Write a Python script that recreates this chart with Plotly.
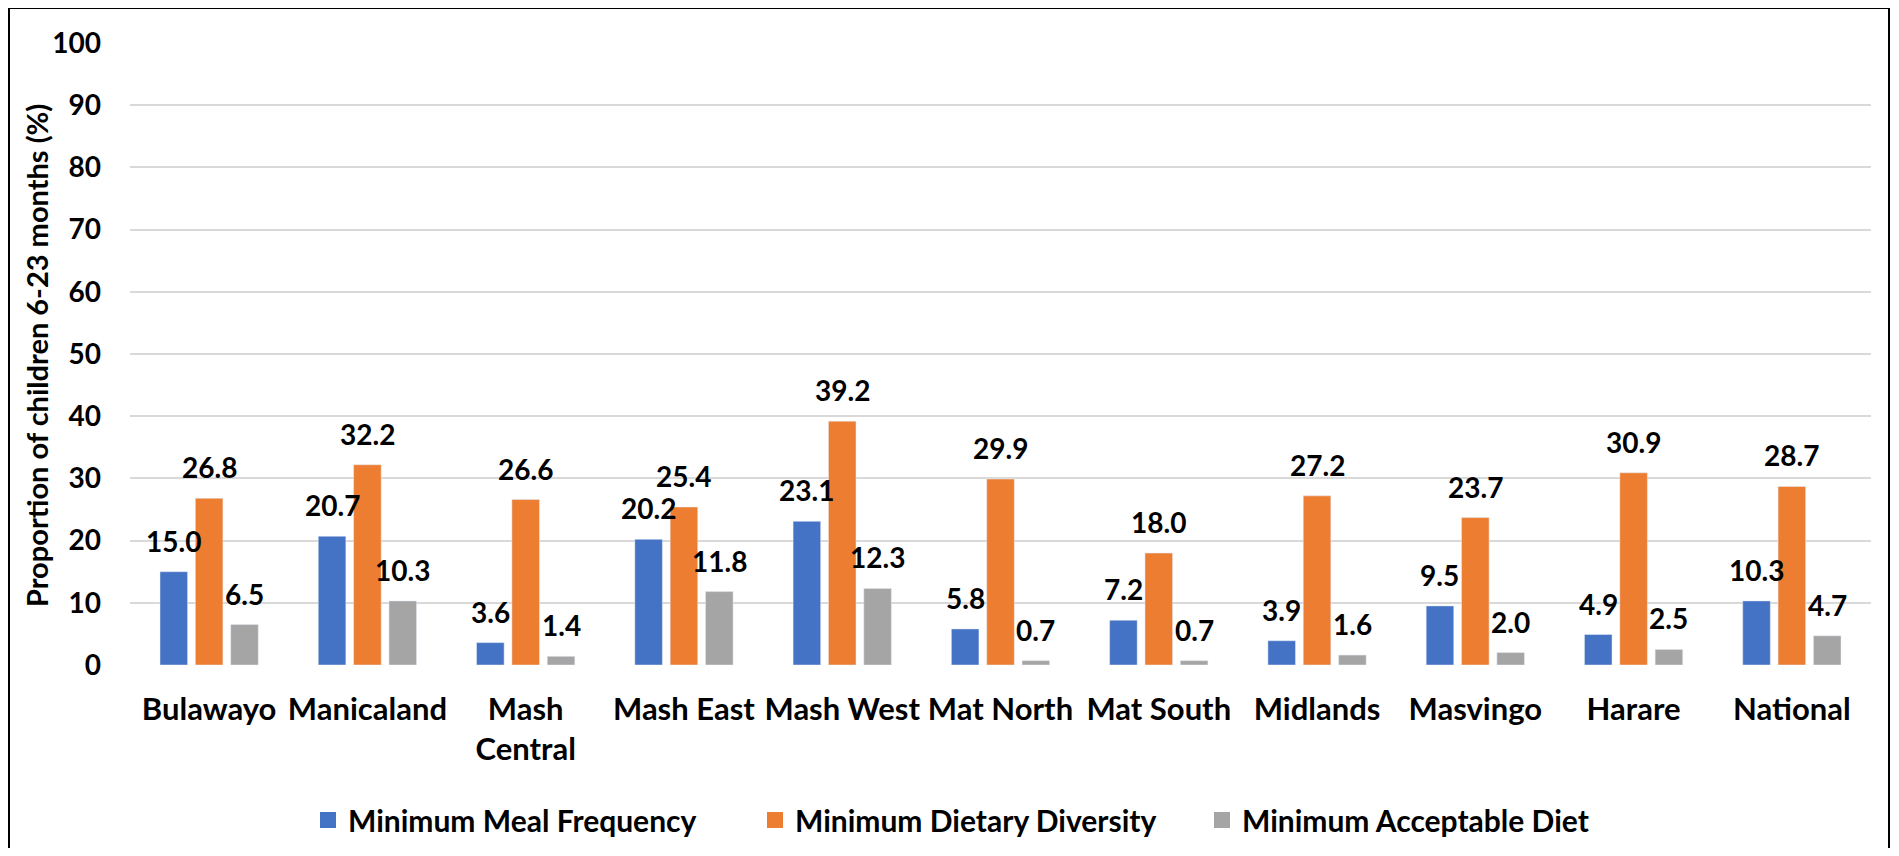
import plotly.graph_objects as go

categories = ["Bulawayo", "Manicaland", "Mash<br>Central", "Mash East", "Mash West",
              "Mat North", "Mat South", "Midlands", "Masvingo", "Harare", "National"]
mmf = [15.0, 20.7, 3.6, 20.2, 23.1, 5.8, 7.2, 3.9, 9.5, 4.9, 10.3]
mdd = [26.8, 32.2, 26.6, 25.4, 39.2, 29.9, 18.0, 27.2, 23.7, 30.9, 28.7]
mad = [6.5, 10.3, 1.4, 11.8, 12.3, 0.7, 0.7, 1.6, 2.0, 2.5, 4.7]
series_names = ["Minimum Meal Frequency", "Minimum Dietary Diversity", "Minimum Acceptable Diet"]
colors = ["#4472C4", "#ED7D31", "#A5A5A5"]
y_ticks = list(range(0, 101, 10))

FONT = "Lato, 'Open Sans', sans-serif"

# the page body has an 8px margin; figure coords = page coords - 8
OFF = 8
W, H = 1899 - 2 * OFF, 856 - 2 * OFF
L, R, T, B = 130 - OFF, 1871 - OFF, 43 - OFF, 665 - OFF
pw, ph = R - L, B - T
BARGAP, GROUPGAP = 0.33, 0.22
slot = pw / len(categories) * (1 - BARGAP) / 3

fig = go.Figure()
annotations = []
for i, (name, vals, col) in enumerate(zip(series_names, [mmf, mdd, mad], colors)):
    fig.add_trace(go.Bar(x=categories, y=vals, name=name, marker_color=col,
                         showlegend=False, hoverinfo="x+y+name"))
    for c, v in zip(categories, vals):
        annotations.append(dict(
            x=c, y=v, xref="x", yref="y", text=f"{v:.1f}", showarrow=False,
            xanchor="center", yanchor="bottom", xshift=(i - 1) * slot, yshift=12,
            font=dict(family=FONT, size=28, color="black", weight="bold")))
# legend-only entries with larger square swatches
for name, col in zip(series_names, colors):
    fig.add_trace(go.Scatter(x=[None], y=[None], mode="markers", name=name,
                             marker=dict(symbol="square", size=18, color=col)))

annotations.append(dict(
    text="Proportion of children 6-23 months (%)", textangle=-90,
    xref="paper", yref="paper", x=(36 - OFF - L) / pw, y=(B - (356 - OFF)) / ph,
    xanchor="center", yanchor="middle", showarrow=False,
    font=dict(family=FONT, size=29, color="black", weight="bold")))

fig.update_layout(
    width=W, height=H,
    margin=dict(l=L, r=W - R, t=T, b=H - B, autoexpand=False),
    paper_bgcolor="white", plot_bgcolor="white",
    barmode="group", bargap=BARGAP, bargroupgap=GROUPGAP,
    font=dict(family=FONT, size=28, color="black", weight="bold"),
    showlegend=True,
    legend=dict(orientation="h", x=(300 - L) / pw, xanchor="left",
                y=(B - (820 - OFF)) / ph, yanchor="middle",
                font=dict(family=FONT, size=30, color="black", weight="bold"),
                itemwidth=30, entrywidth=402, entrywidthmode="pixels", tracegroupgap=0),
    xaxis=dict(showgrid=False, showline=False, zeroline=False, ticks="",
               ticklabelstandoff=23, automargin=False,
               tickfont=dict(family=FONT, size=31, color="black", weight="bold")),
    yaxis=dict(range=[0, 100], tickvals=y_ticks, showgrid=True, gridcolor="#D9D9D9",
               gridwidth=1.5, zeroline=False, showline=False, ticks="",
               ticklabelstandoff=28, automargin=False,
               tickfont=dict(family=FONT, size=28, color="black", weight="bold")),
    annotations=annotations,
    shapes=[dict(type="rect", xref="paper", yref="paper",
                 x0=(1 - L) / pw, x1=(W - 2 - L) / pw,
                 y0=(B - (H + 20)) / ph, y1=(B - 0) / ph,
                 line=dict(color="black", width=2), fillcolor="rgba(0,0,0,0)")],
)

fig.write_html("out.html")
